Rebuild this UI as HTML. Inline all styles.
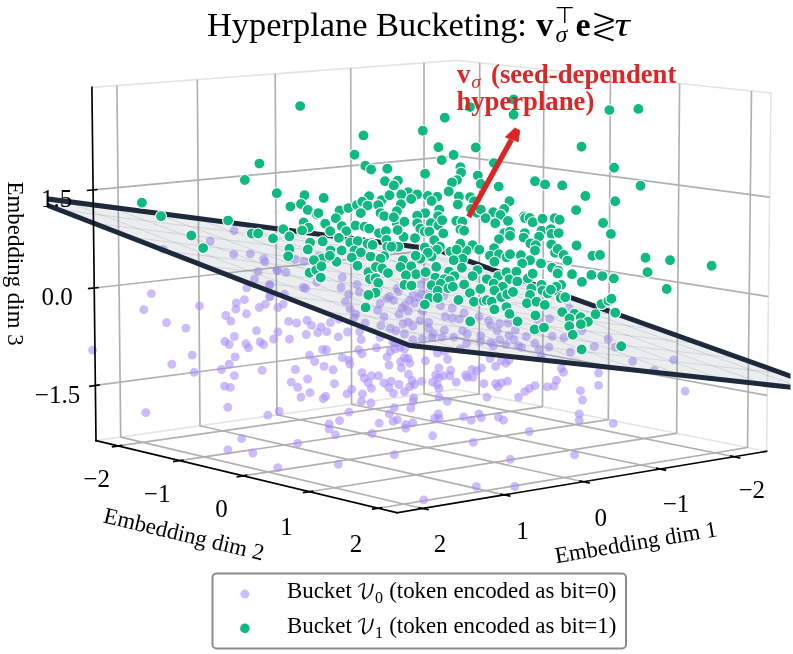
<!DOCTYPE html><html><head><meta charset="utf-8"><style>html,body{margin:0;padding:0;background:#fff}svg{display:block}</style></head><body><svg width="793" height="654" viewBox="0 0 793 654" font-family="'Liberation Serif', serif">
<rect width="793" height="654" fill="#fff"/>
<defs><clipPath id="axclip"><rect x="47" y="0" width="743.5" height="654"/></clipPath></defs>
<polyline points="91.9,87.4 456.3,60.4" fill="none" stroke="#e4e4e4" stroke-width="1.6" />
<polyline points="96.0,440.6 456.0,389.3 766.6,451.3" fill="none" stroke="#e4e4e4" stroke-width="1.6" />
<polyline points="456.3,60.4 770.9,93.0 766.6,451.3" fill="none" stroke="#e4e4e4" stroke-width="1.6" />
<polyline points="96.0,440.6 396.9,512.7 766.6,451.3" fill="none" stroke="#e4e4e4" stroke-width="1.6" />
<polyline points="734.1,456.7 424.1,393.9 424.0,62.8" fill="none" stroke="#b0b0b0" stroke-width="1.67" stroke-linejoin="round"/>
<polyline points="118.2,445.9 479.1,394.0 479.7,62.8" fill="none" stroke="#b0b0b0" stroke-width="1.67" stroke-linejoin="round"/>
<polyline points="660.0,469.0 351.6,404.2 350.7,68.2" fill="none" stroke="#b0b0b0" stroke-width="1.67" stroke-linejoin="round"/>
<polyline points="179.4,460.6 542.5,406.6 543.9,69.5" fill="none" stroke="#b0b0b0" stroke-width="1.67" stroke-linejoin="round"/>
<polyline points="583.4,481.7 277.0,414.8 275.2,73.8" fill="none" stroke="#b0b0b0" stroke-width="1.67" stroke-linejoin="round"/>
<polyline points="243.0,475.8 608.3,419.7 610.5,76.4" fill="none" stroke="#b0b0b0" stroke-width="1.67" stroke-linejoin="round"/>
<polyline points="504.3,494.9 200.0,425.8 197.3,79.6" fill="none" stroke="#b0b0b0" stroke-width="1.67" stroke-linejoin="round"/>
<polyline points="309.3,491.7 676.6,433.4 679.6,83.6" fill="none" stroke="#b0b0b0" stroke-width="1.67" stroke-linejoin="round"/>
<polyline points="422.4,508.5 120.7,437.1 116.9,85.5" fill="none" stroke="#b0b0b0" stroke-width="1.67" stroke-linejoin="round"/>
<polyline points="378.3,508.2 747.5,447.5 751.5,91.0" fill="none" stroke="#b0b0b0" stroke-width="1.67" stroke-linejoin="round"/>
<polyline points="95.3,385.4 456.0,337.9 767.3,395.4" fill="none" stroke="#b0b0b0" stroke-width="1.67" stroke-linejoin="round"/>
<polyline points="94.2,288.0 456.1,247.2 768.5,296.6" fill="none" stroke="#b0b0b0" stroke-width="1.67" stroke-linejoin="round"/>
<polyline points="93.1,189.9 456.2,155.8 769.6,197.1" fill="none" stroke="#b0b0b0" stroke-width="1.67" stroke-linejoin="round"/>
<g clip-path="url(#axclip)">
<g fill="#a78bfa" fill-opacity="0.58">
<circle cx="290.3" cy="257.9" r="4.45"/>
<circle cx="295.0" cy="259.6" r="4.45"/>
<circle cx="444.0" cy="295.6" r="4.45"/>
<circle cx="397.1" cy="288.3" r="4.45"/>
<circle cx="373.4" cy="294.1" r="4.45"/>
<circle cx="436.5" cy="288.6" r="4.45"/>
<circle cx="430.4" cy="290.1" r="4.45"/>
<circle cx="377.9" cy="289.8" r="4.45"/>
<circle cx="425.0" cy="276.8" r="4.45"/>
<circle cx="304.0" cy="261.4" r="4.45"/>
<circle cx="421.0" cy="284.6" r="4.45"/>
<circle cx="421.4" cy="293.8" r="4.45"/>
<circle cx="413.1" cy="294.8" r="4.45"/>
<circle cx="376.6" cy="288.3" r="4.45"/>
<circle cx="319.1" cy="256.3" r="4.45"/>
<circle cx="373.8" cy="293.5" r="4.45"/>
<circle cx="431.9" cy="295.5" r="4.45"/>
<circle cx="438.5" cy="288.3" r="4.45"/>
<circle cx="419.0" cy="297.0" r="4.45"/>
<circle cx="398.4" cy="291.5" r="4.45"/>
<circle cx="453.4" cy="287.5" r="4.45"/>
<circle cx="389.1" cy="273.2" r="4.45"/>
<circle cx="452.8" cy="287.6" r="4.45"/>
<circle cx="234.2" cy="230.7" r="4.45"/>
<circle cx="210.2" cy="241.0" r="4.45"/>
<circle cx="163.3" cy="249.4" r="4.45"/>
<circle cx="233.7" cy="254.4" r="4.45"/>
<circle cx="250.3" cy="253.9" r="4.45"/>
<circle cx="263.7" cy="258.9" r="4.45"/>
<circle cx="569.1" cy="308.0" r="4.45"/>
<circle cx="549.7" cy="318.6" r="4.45"/>
<circle cx="537.6" cy="319.3" r="4.45"/>
<circle cx="552.2" cy="336.2" r="4.45"/>
<circle cx="564.0" cy="337.7" r="4.45"/>
<circle cx="581.7" cy="330.7" r="4.45"/>
<circle cx="608.2" cy="339.0" r="4.45"/>
<circle cx="594.3" cy="346.6" r="4.45"/>
<circle cx="615.2" cy="347.1" r="4.45"/>
<circle cx="570.4" cy="352.1" r="4.45"/>
<circle cx="548.9" cy="347.1" r="4.45"/>
<circle cx="535.0" cy="343.3" r="4.45"/>
<circle cx="538.8" cy="349.6" r="4.45"/>
<circle cx="541.3" cy="355.9" r="4.45"/>
<circle cx="632.6" cy="361.4" r="4.45"/>
<circle cx="673.8" cy="359.9" r="4.45"/>
<circle cx="654.3" cy="370.5" r="4.45"/>
<circle cx="561.5" cy="368.5" r="4.45"/>
<circle cx="563.5" cy="372.3" r="4.45"/>
<circle cx="598.6" cy="373.0" r="4.45"/>
<circle cx="556.5" cy="380.3" r="4.45"/>
<circle cx="554.0" cy="386.1" r="4.45"/>
<circle cx="547.2" cy="386.9" r="4.45"/>
<circle cx="535.0" cy="385.6" r="4.45"/>
<circle cx="598.6" cy="385.4" r="4.45"/>
<circle cx="580.4" cy="390.7" r="4.45"/>
<circle cx="582.5" cy="400.0" r="4.45"/>
<circle cx="685.1" cy="391.2" r="4.45"/>
<circle cx="579.2" cy="413.9" r="4.45"/>
<circle cx="579.2" cy="420.2" r="4.45"/>
<circle cx="151.4" cy="293.6" r="4.45"/>
<circle cx="143.8" cy="309.7" r="4.45"/>
<circle cx="166.5" cy="322.6" r="4.45"/>
<circle cx="185.9" cy="328.1" r="4.45"/>
<circle cx="199.5" cy="305.9" r="4.45"/>
<circle cx="92.6" cy="350.1" r="4.45"/>
<circle cx="192.2" cy="355.1" r="4.45"/>
<circle cx="171.8" cy="364.2" r="4.45"/>
<circle cx="194.2" cy="372.3" r="4.45"/>
<circle cx="145.8" cy="412.6" r="4.45"/>
<circle cx="225.8" cy="315.5" r="4.45"/>
<circle cx="230.8" cy="321.1" r="4.45"/>
<circle cx="235.9" cy="309.2" r="4.45"/>
<circle cx="236.4" cy="302.9" r="4.45"/>
<circle cx="244.4" cy="299.6" r="4.45"/>
<circle cx="246.7" cy="287.8" r="4.45"/>
<circle cx="246.5" cy="313.8" r="4.45"/>
<circle cx="259.3" cy="307.5" r="4.45"/>
<circle cx="265.4" cy="304.2" r="4.45"/>
<circle cx="269.7" cy="296.6" r="4.45"/>
<circle cx="254.5" cy="279.0" r="4.45"/>
<circle cx="269.4" cy="285.3" r="4.45"/>
<circle cx="258.1" cy="271.4" r="4.45"/>
<circle cx="264.9" cy="261.8" r="4.45"/>
<circle cx="278.0" cy="270.6" r="4.45"/>
<circle cx="278.0" cy="307.5" r="4.45"/>
<circle cx="256.5" cy="330.7" r="4.45"/>
<circle cx="234.4" cy="336.5" r="4.45"/>
<circle cx="225.0" cy="341.5" r="4.45"/>
<circle cx="229.3" cy="344.5" r="4.45"/>
<circle cx="246.0" cy="343.8" r="4.45"/>
<circle cx="248.5" cy="347.8" r="4.45"/>
<circle cx="260.1" cy="342.0" r="4.45"/>
<circle cx="263.6" cy="344.5" r="4.45"/>
<circle cx="273.7" cy="339.0" r="4.45"/>
<circle cx="278.0" cy="331.9" r="4.45"/>
<circle cx="235.1" cy="356.9" r="4.45"/>
<circle cx="229.3" cy="364.2" r="4.45"/>
<circle cx="221.5" cy="369.5" r="4.45"/>
<circle cx="234.4" cy="375.6" r="4.45"/>
<circle cx="262.1" cy="370.3" r="4.45"/>
<circle cx="224.5" cy="386.1" r="4.45"/>
<circle cx="230.3" cy="387.4" r="4.45"/>
<circle cx="227.8" cy="407.3" r="4.45"/>
<circle cx="267.9" cy="415.2" r="4.45"/>
<circle cx="279.2" cy="411.4" r="4.45"/>
<circle cx="241.7" cy="438.6" r="4.45"/>
<circle cx="227.9" cy="449.9" r="4.45"/>
<circle cx="252.8" cy="453.0" r="4.45"/>
<circle cx="277.8" cy="467.6" r="4.45"/>
<circle cx="297.7" cy="443.4" r="4.45"/>
<circle cx="329.2" cy="424.0" r="4.45"/>
<circle cx="329.2" cy="429.0" r="4.45"/>
<circle cx="361.5" cy="401.3" r="4.45"/>
<circle cx="370.9" cy="403.0" r="4.45"/>
<circle cx="394.3" cy="407.6" r="4.45"/>
<circle cx="410.7" cy="408.1" r="4.45"/>
<circle cx="413.2" cy="401.3" r="4.45"/>
<circle cx="447.3" cy="401.3" r="4.45"/>
<circle cx="348.9" cy="412.1" r="4.45"/>
<circle cx="339.6" cy="420.7" r="4.45"/>
<circle cx="335.5" cy="434.8" r="4.45"/>
<circle cx="372.1" cy="433.5" r="4.45"/>
<circle cx="379.2" cy="423.2" r="4.45"/>
<circle cx="389.3" cy="413.9" r="4.45"/>
<circle cx="393.1" cy="421.4" r="4.45"/>
<circle cx="397.3" cy="419.7" r="4.45"/>
<circle cx="405.7" cy="424.7" r="4.45"/>
<circle cx="405.7" cy="428.2" r="4.45"/>
<circle cx="412.7" cy="422.7" r="4.45"/>
<circle cx="434.7" cy="418.2" r="4.45"/>
<circle cx="438.4" cy="413.9" r="4.45"/>
<circle cx="439.0" cy="418.2" r="4.45"/>
<circle cx="463.7" cy="416.9" r="4.45"/>
<circle cx="471.2" cy="420.2" r="4.45"/>
<circle cx="478.8" cy="413.9" r="4.45"/>
<circle cx="481.3" cy="417.7" r="4.45"/>
<circle cx="498.5" cy="417.2" r="4.45"/>
<circle cx="503.5" cy="420.2" r="4.45"/>
<circle cx="432.6" cy="435.8" r="4.45"/>
<circle cx="473.3" cy="442.4" r="4.45"/>
<circle cx="394.3" cy="454.7" r="4.45"/>
<circle cx="338.3" cy="464.3" r="4.45"/>
<circle cx="510.3" cy="459.3" r="4.45"/>
<circle cx="476.3" cy="486.5" r="4.45"/>
<circle cx="514.9" cy="486.5" r="4.45"/>
<circle cx="423.8" cy="499.9" r="4.45"/>
<circle cx="529.2" cy="431.5" r="4.45"/>
<circle cx="613.2" cy="423.4" r="4.45"/>
<circle cx="574.6" cy="454.9" r="4.45"/>
<circle cx="276.8" cy="270.1" r="4.45"/>
<circle cx="285.9" cy="272.3" r="4.45"/>
<circle cx="303.3" cy="287.5" r="4.45"/>
<circle cx="305.6" cy="288.2" r="4.45"/>
<circle cx="316.9" cy="282.2" r="4.45"/>
<circle cx="342.3" cy="277.3" r="4.45"/>
<circle cx="341.1" cy="287.5" r="4.45"/>
<circle cx="357.0" cy="284.4" r="4.45"/>
<circle cx="348.7" cy="294.3" r="4.45"/>
<circle cx="359.3" cy="292.0" r="4.45"/>
<circle cx="389.6" cy="296.5" r="4.45"/>
<circle cx="270.0" cy="296.5" r="4.45"/>
<circle cx="270.0" cy="284.4" r="4.45"/>
<circle cx="284.4" cy="294.3" r="4.45"/>
<circle cx="283.2" cy="304.1" r="4.45"/>
<circle cx="288.7" cy="321.4" r="4.45"/>
<circle cx="296.6" cy="323.0" r="4.45"/>
<circle cx="307.1" cy="320.3" r="4.45"/>
<circle cx="311.5" cy="325.4" r="4.45"/>
<circle cx="321.0" cy="326.9" r="4.45"/>
<circle cx="330.4" cy="322.5" r="4.45"/>
<circle cx="317.8" cy="332.5" r="4.45"/>
<circle cx="326.8" cy="331.7" r="4.45"/>
<circle cx="306.3" cy="334.5" r="4.45"/>
<circle cx="289.5" cy="339.2" r="4.45"/>
<circle cx="338.3" cy="336.9" r="4.45"/>
<circle cx="347.5" cy="332.0" r="4.45"/>
<circle cx="339.1" cy="319.1" r="4.45"/>
<circle cx="359.6" cy="331.7" r="4.45"/>
<circle cx="361.2" cy="339.6" r="4.45"/>
<circle cx="358.8" cy="349.8" r="4.45"/>
<circle cx="362.0" cy="353.7" r="4.45"/>
<circle cx="376.5" cy="347.8" r="4.45"/>
<circle cx="380.1" cy="337.2" r="4.45"/>
<circle cx="322.6" cy="349.5" r="4.45"/>
<circle cx="326.5" cy="349.8" r="4.45"/>
<circle cx="309.5" cy="355.3" r="4.45"/>
<circle cx="314.7" cy="361.6" r="4.45"/>
<circle cx="324.1" cy="366.4" r="4.45"/>
<circle cx="333.1" cy="369.8" r="4.45"/>
<circle cx="342.3" cy="357.7" r="4.45"/>
<circle cx="348.9" cy="360.1" r="4.45"/>
<circle cx="349.8" cy="364.0" r="4.45"/>
<circle cx="295.4" cy="369.5" r="4.45"/>
<circle cx="307.6" cy="379.0" r="4.45"/>
<circle cx="291.3" cy="382.1" r="4.45"/>
<circle cx="297.7" cy="387.3" r="4.45"/>
<circle cx="334.4" cy="383.7" r="4.45"/>
<circle cx="309.9" cy="392.7" r="4.45"/>
<circle cx="301.0" cy="397.1" r="4.45"/>
<circle cx="325.7" cy="396.3" r="4.45"/>
<circle cx="323.3" cy="398.7" r="4.45"/>
<circle cx="351.7" cy="389.2" r="4.45"/>
<circle cx="347.0" cy="393.9" r="4.45"/>
<circle cx="362.4" cy="393.9" r="4.45"/>
<circle cx="362.0" cy="372.7" r="4.45"/>
<circle cx="364.3" cy="378.2" r="4.45"/>
<circle cx="371.4" cy="375.8" r="4.45"/>
<circle cx="378.5" cy="375.8" r="4.45"/>
<circle cx="368.3" cy="382.9" r="4.45"/>
<circle cx="371.4" cy="388.4" r="4.45"/>
<circle cx="384.0" cy="382.9" r="4.45"/>
<circle cx="391.1" cy="381.3" r="4.45"/>
<circle cx="388.8" cy="387.6" r="4.45"/>
<circle cx="393.5" cy="393.2" r="4.45"/>
<circle cx="399.0" cy="384.5" r="4.45"/>
<circle cx="404.5" cy="391.6" r="4.45"/>
<circle cx="387.2" cy="356.9" r="4.45"/>
<circle cx="390.3" cy="351.4" r="4.45"/>
<circle cx="395.1" cy="349.0" r="4.45"/>
<circle cx="399.8" cy="347.4" r="4.45"/>
<circle cx="404.5" cy="349.0" r="4.45"/>
<circle cx="389.1" cy="365.1" r="4.45"/>
<circle cx="400.6" cy="361.6" r="4.45"/>
<circle cx="404.5" cy="357.7" r="4.45"/>
<circle cx="401.4" cy="367.9" r="4.45"/>
<circle cx="395.1" cy="342.7" r="4.45"/>
<circle cx="392.7" cy="341.9" r="4.45"/>
<circle cx="345.4" cy="301.7" r="4.45"/>
<circle cx="350.1" cy="308.8" r="4.45"/>
<circle cx="355.7" cy="314.3" r="4.45"/>
<circle cx="354.1" cy="317.5" r="4.45"/>
<circle cx="365.1" cy="323.0" r="4.45"/>
<circle cx="377.7" cy="310.4" r="4.45"/>
<circle cx="380.1" cy="303.3" r="4.45"/>
<circle cx="384.0" cy="316.7" r="4.45"/>
<circle cx="380.9" cy="325.4" r="4.45"/>
<circle cx="390.3" cy="328.5" r="4.45"/>
<circle cx="395.9" cy="330.9" r="4.45"/>
<circle cx="403.0" cy="323.8" r="4.45"/>
<circle cx="404.5" cy="334.0" r="4.45"/>
<circle cx="399.0" cy="314.3" r="4.45"/>
<circle cx="402.2" cy="308.0" r="4.45"/>
<circle cx="393.5" cy="300.2" r="4.45"/>
<circle cx="387.2" cy="298.6" r="4.45"/>
<circle cx="408.2" cy="358.5" r="4.45"/>
<circle cx="409.7" cy="363.2" r="4.45"/>
<circle cx="425.5" cy="360.8" r="4.45"/>
<circle cx="437.3" cy="353.0" r="4.45"/>
<circle cx="447.6" cy="359.3" r="4.45"/>
<circle cx="444.4" cy="351.4" r="4.45"/>
<circle cx="438.9" cy="367.9" r="4.45"/>
<circle cx="450.7" cy="370.3" r="4.45"/>
<circle cx="435.7" cy="375.0" r="4.45"/>
<circle cx="438.9" cy="377.4" r="4.45"/>
<circle cx="443.6" cy="375.8" r="4.45"/>
<circle cx="449.9" cy="375.8" r="4.45"/>
<circle cx="408.5" cy="374.2" r="4.45"/>
<circle cx="412.1" cy="380.5" r="4.45"/>
<circle cx="414.5" cy="384.5" r="4.45"/>
<circle cx="409.7" cy="386.8" r="4.45"/>
<circle cx="421.6" cy="381.3" r="4.45"/>
<circle cx="432.6" cy="382.1" r="4.45"/>
<circle cx="437.3" cy="384.5" r="4.45"/>
<circle cx="438.9" cy="388.4" r="4.45"/>
<circle cx="456.2" cy="382.1" r="4.45"/>
<circle cx="465.7" cy="375.0" r="4.45"/>
<circle cx="472.0" cy="369.5" r="4.45"/>
<circle cx="472.8" cy="377.4" r="4.45"/>
<circle cx="481.5" cy="367.9" r="4.45"/>
<circle cx="476.7" cy="371.1" r="4.45"/>
<circle cx="467.3" cy="377.4" r="4.45"/>
<circle cx="490.1" cy="358.5" r="4.45"/>
<circle cx="495.6" cy="366.4" r="4.45"/>
<circle cx="501.2" cy="360.8" r="4.45"/>
<circle cx="505.9" cy="363.2" r="4.45"/>
<circle cx="509.0" cy="360.1" r="4.45"/>
<circle cx="483.8" cy="383.7" r="4.45"/>
<circle cx="495.6" cy="383.7" r="4.45"/>
<circle cx="498.0" cy="386.8" r="4.45"/>
<circle cx="507.5" cy="381.3" r="4.45"/>
<circle cx="501.2" cy="382.9" r="4.45"/>
<circle cx="524.8" cy="391.6" r="4.45"/>
<circle cx="529.5" cy="388.4" r="4.45"/>
<circle cx="518.5" cy="397.1" r="4.45"/>
<circle cx="487.0" cy="397.1" r="4.45"/>
<circle cx="438.9" cy="397.1" r="4.45"/>
<circle cx="413.7" cy="397.9" r="4.45"/>
<circle cx="460.2" cy="349.0" r="4.45"/>
<circle cx="408.2" cy="322.2" r="4.45"/>
<circle cx="412.9" cy="326.2" r="4.45"/>
<circle cx="420.0" cy="320.6" r="4.45"/>
<circle cx="428.6" cy="322.2" r="4.45"/>
<circle cx="428.6" cy="328.5" r="4.45"/>
<circle cx="433.4" cy="334.0" r="4.45"/>
<circle cx="440.5" cy="305.7" r="4.45"/>
<circle cx="445.2" cy="316.7" r="4.45"/>
<circle cx="444.4" cy="330.1" r="4.45"/>
<circle cx="452.3" cy="308.0" r="4.45"/>
<circle cx="452.3" cy="318.3" r="4.45"/>
<circle cx="459.4" cy="319.1" r="4.45"/>
<circle cx="464.1" cy="312.8" r="4.45"/>
<circle cx="462.5" cy="330.9" r="4.45"/>
<circle cx="467.3" cy="334.0" r="4.45"/>
<circle cx="453.9" cy="337.2" r="4.45"/>
<circle cx="442.0" cy="337.2" r="4.45"/>
<circle cx="431.8" cy="337.2" r="4.45"/>
<circle cx="422.3" cy="338.8" r="4.45"/>
<circle cx="412.9" cy="339.6" r="4.45"/>
<circle cx="479.1" cy="316.7" r="4.45"/>
<circle cx="480.7" cy="335.6" r="4.45"/>
<circle cx="488.5" cy="320.6" r="4.45"/>
<circle cx="490.9" cy="325.4" r="4.45"/>
<circle cx="497.2" cy="330.9" r="4.45"/>
<circle cx="499.6" cy="323.8" r="4.45"/>
<circle cx="508.2" cy="323.0" r="4.45"/>
<circle cx="515.3" cy="330.1" r="4.45"/>
<circle cx="509.0" cy="335.6" r="4.45"/>
<circle cx="499.6" cy="339.6" r="4.45"/>
<circle cx="490.9" cy="342.7" r="4.45"/>
<circle cx="480.7" cy="341.1" r="4.45"/>
<circle cx="466.5" cy="343.5" r="4.45"/>
<circle cx="513.8" cy="339.6" r="4.45"/>
<circle cx="518.5" cy="345.9" r="4.45"/>
<circle cx="505.9" cy="344.3" r="4.45"/>
<circle cx="493.3" cy="345.9" r="4.45"/>
<circle cx="408.2" cy="311.2" r="4.45"/>
<circle cx="414.5" cy="303.3" r="4.45"/>
<circle cx="409.7" cy="300.2" r="4.45"/>
<circle cx="405.0" cy="304.9" r="4.45"/>
<circle cx="422.3" cy="311.2" r="4.45"/>
<circle cx="521.6" cy="347.4" r="4.45"/>
<circle cx="526.4" cy="336.4" r="4.45"/>
</g>
<polygon points="22.6,195.7 410.0,345.5 835.5,392.2 436.1,249.4" fill="#7b8494" fill-opacity="0.15"/>
<polyline points="397.9,244.5 796.5,385.8" fill="none" stroke="#6b7280" stroke-width="0.65" stroke-opacity="0.3"/>
<polyline points="472.4,262.2 57.4,209.5" fill="none" stroke="#6b7280" stroke-width="0.65" stroke-opacity="0.3"/>
<polyline points="358.9,239.5 756.7,381.5" fill="none" stroke="#6b7280" stroke-width="0.65" stroke-opacity="0.3"/>
<polyline points="509.3,275.2 93.0,223.1" fill="none" stroke="#6b7280" stroke-width="0.65" stroke-opacity="0.3"/>
<polyline points="319.4,234.4 716.2,377.2" fill="none" stroke="#6b7280" stroke-width="0.65" stroke-opacity="0.3"/>
<polyline points="547.1,288.5 129.4,237.0" fill="none" stroke="#6b7280" stroke-width="0.65" stroke-opacity="0.3"/>
<polyline points="279.1,229.2 675.0,372.7" fill="none" stroke="#6b7280" stroke-width="0.65" stroke-opacity="0.3"/>
<polyline points="585.6,302.1 166.7,251.2" fill="none" stroke="#6b7280" stroke-width="0.65" stroke-opacity="0.3"/>
<polyline points="238.2,224.0 632.9,368.2" fill="none" stroke="#6b7280" stroke-width="0.65" stroke-opacity="0.3"/>
<polyline points="625.0,315.9 204.8,265.8" fill="none" stroke="#6b7280" stroke-width="0.65" stroke-opacity="0.3"/>
<polyline points="196.5,218.6 590.1,363.6" fill="none" stroke="#6b7280" stroke-width="0.65" stroke-opacity="0.3"/>
<polyline points="665.3,330.1 243.9,280.7" fill="none" stroke="#6b7280" stroke-width="0.65" stroke-opacity="0.3"/>
<polyline points="154.2,213.1 546.4,358.9" fill="none" stroke="#6b7280" stroke-width="0.65" stroke-opacity="0.3"/>
<polyline points="706.4,344.6 283.9,296.0" fill="none" stroke="#6b7280" stroke-width="0.65" stroke-opacity="0.3"/>
<polyline points="111.1,207.6 501.8,354.1" fill="none" stroke="#6b7280" stroke-width="0.65" stroke-opacity="0.3"/>
<polyline points="748.5,359.4 324.9,311.7" fill="none" stroke="#6b7280" stroke-width="0.65" stroke-opacity="0.3"/>
<polyline points="67.2,201.9 456.4,349.2" fill="none" stroke="#6b7280" stroke-width="0.65" stroke-opacity="0.3"/>
<polyline points="791.5,374.5 366.9,327.7" fill="none" stroke="#6b7280" stroke-width="0.65" stroke-opacity="0.3"/>
<polygon points="22.6,195.7 410.0,345.5 835.5,392.2 436.1,249.4" fill="none" stroke="#1e293b" stroke-width="5" stroke-linejoin="round"/>
<g fill="#10b981" stroke="#fff" stroke-width="1.1">
<circle cx="365.3" cy="165.8" r="5.5"/>
<circle cx="371.1" cy="169.5" r="5.5"/>
<circle cx="387.3" cy="168.8" r="5.5"/>
<circle cx="385.0" cy="181.2" r="5.5"/>
<circle cx="276.8" cy="193.3" r="5.5"/>
<circle cx="304.5" cy="195.3" r="5.5"/>
<circle cx="323.7" cy="198.0" r="5.5"/>
<circle cx="369.1" cy="196.3" r="5.5"/>
<circle cx="381.7" cy="200.1" r="5.5"/>
<circle cx="389.5" cy="195.3" r="5.5"/>
<circle cx="290.4" cy="206.6" r="5.5"/>
<circle cx="301.0" cy="204.0" r="5.5"/>
<circle cx="307.8" cy="209.9" r="5.5"/>
<circle cx="316.9" cy="214.6" r="5.5"/>
<circle cx="318.4" cy="213.1" r="5.5"/>
<circle cx="338.9" cy="211.9" r="5.5"/>
<circle cx="339.6" cy="210.4" r="5.5"/>
<circle cx="348.4" cy="208.1" r="5.5"/>
<circle cx="357.0" cy="205.1" r="5.5"/>
<circle cx="362.3" cy="201.8" r="5.5"/>
<circle cx="367.6" cy="205.6" r="5.5"/>
<circle cx="378.2" cy="205.1" r="5.5"/>
<circle cx="380.5" cy="213.1" r="5.5"/>
<circle cx="384.2" cy="216.1" r="5.5"/>
<circle cx="360.8" cy="213.1" r="5.5"/>
<circle cx="335.8" cy="218.3" r="5.5"/>
<circle cx="303.6" cy="222.5" r="5.5"/>
<circle cx="308.6" cy="227.8" r="5.5"/>
<circle cx="302.1" cy="230.4" r="5.5"/>
<circle cx="325.2" cy="223.7" r="5.5"/>
<circle cx="341.9" cy="226.3" r="5.5"/>
<circle cx="346.4" cy="231.1" r="5.5"/>
<circle cx="330.2" cy="231.3" r="5.5"/>
<circle cx="355.5" cy="225.5" r="5.5"/>
<circle cx="364.6" cy="226.7" r="5.5"/>
<circle cx="369.1" cy="228.6" r="5.5"/>
<circle cx="283.3" cy="229.3" r="5.5"/>
<circle cx="289.4" cy="236.4" r="5.5"/>
<circle cx="273.0" cy="238.4" r="5.5"/>
<circle cx="338.9" cy="237.9" r="5.5"/>
<circle cx="322.7" cy="241.4" r="5.5"/>
<circle cx="310.1" cy="242.6" r="5.5"/>
<circle cx="350.2" cy="242.5" r="5.5"/>
<circle cx="357.8" cy="241.1" r="5.5"/>
<circle cx="367.6" cy="243.7" r="5.5"/>
<circle cx="372.6" cy="244.9" r="5.5"/>
<circle cx="379.0" cy="233.1" r="5.5"/>
<circle cx="385.8" cy="231.3" r="5.5"/>
<circle cx="386.5" cy="239.9" r="5.5"/>
<circle cx="387.3" cy="246.7" r="5.5"/>
<circle cx="289.4" cy="248.7" r="5.5"/>
<circle cx="307.8" cy="249.4" r="5.5"/>
<circle cx="330.5" cy="250.5" r="5.5"/>
<circle cx="341.6" cy="250.5" r="5.5"/>
<circle cx="354.4" cy="250.5" r="5.5"/>
<circle cx="360.8" cy="252.5" r="5.5"/>
<circle cx="288.2" cy="256.2" r="5.5"/>
<circle cx="322.2" cy="258.5" r="5.5"/>
<circle cx="313.9" cy="260.3" r="5.5"/>
<circle cx="351.7" cy="257.6" r="5.5"/>
<circle cx="370.6" cy="256.6" r="5.5"/>
<circle cx="384.2" cy="256.2" r="5.5"/>
<circle cx="336.6" cy="261.8" r="5.5"/>
<circle cx="329.8" cy="255.8" r="5.5"/>
<circle cx="380.5" cy="258.8" r="5.5"/>
<circle cx="425.1" cy="173.8" r="5.5"/>
<circle cx="460.4" cy="167.3" r="5.5"/>
<circle cx="461.1" cy="172.6" r="5.5"/>
<circle cx="457.0" cy="180.1" r="5.5"/>
<circle cx="452.0" cy="182.4" r="5.5"/>
<circle cx="477.8" cy="175.6" r="5.5"/>
<circle cx="480.8" cy="183.9" r="5.5"/>
<circle cx="498.7" cy="186.6" r="5.5"/>
<circle cx="397.9" cy="180.6" r="5.5"/>
<circle cx="393.8" cy="185.4" r="5.5"/>
<circle cx="448.7" cy="191.5" r="5.5"/>
<circle cx="408.2" cy="192.2" r="5.5"/>
<circle cx="417.2" cy="194.5" r="5.5"/>
<circle cx="401.3" cy="194.5" r="5.5"/>
<circle cx="411.2" cy="199.0" r="5.5"/>
<circle cx="427.8" cy="196.0" r="5.5"/>
<circle cx="437.2" cy="196.8" r="5.5"/>
<circle cx="431.6" cy="201.0" r="5.5"/>
<circle cx="458.9" cy="196.5" r="5.5"/>
<circle cx="457.8" cy="204.6" r="5.5"/>
<circle cx="470.2" cy="197.1" r="5.5"/>
<circle cx="474.0" cy="201.3" r="5.5"/>
<circle cx="509.5" cy="201.3" r="5.5"/>
<circle cx="400.9" cy="204.3" r="5.5"/>
<circle cx="396.8" cy="211.2" r="5.5"/>
<circle cx="439.2" cy="209.6" r="5.5"/>
<circle cx="425.1" cy="213.1" r="5.5"/>
<circle cx="438.1" cy="216.1" r="5.5"/>
<circle cx="417.2" cy="215.7" r="5.5"/>
<circle cx="471.0" cy="208.9" r="5.5"/>
<circle cx="477.0" cy="212.7" r="5.5"/>
<circle cx="480.8" cy="209.6" r="5.5"/>
<circle cx="493.2" cy="212.2" r="5.5"/>
<circle cx="504.2" cy="208.9" r="5.5"/>
<circle cx="500.5" cy="214.9" r="5.5"/>
<circle cx="485.6" cy="218.3" r="5.5"/>
<circle cx="495.2" cy="223.3" r="5.5"/>
<circle cx="508.0" cy="221.0" r="5.5"/>
<circle cx="396.8" cy="223.3" r="5.5"/>
<circle cx="404.4" cy="221.7" r="5.5"/>
<circle cx="393.8" cy="217.2" r="5.5"/>
<circle cx="417.2" cy="223.3" r="5.5"/>
<circle cx="430.9" cy="223.3" r="5.5"/>
<circle cx="438.4" cy="225.5" r="5.5"/>
<circle cx="442.2" cy="220.2" r="5.5"/>
<circle cx="456.3" cy="221.0" r="5.5"/>
<circle cx="462.3" cy="221.7" r="5.5"/>
<circle cx="460.4" cy="229.6" r="5.5"/>
<circle cx="464.1" cy="230.8" r="5.5"/>
<circle cx="420.3" cy="228.6" r="5.5"/>
<circle cx="424.8" cy="231.6" r="5.5"/>
<circle cx="429.3" cy="231.6" r="5.5"/>
<circle cx="443.3" cy="233.4" r="5.5"/>
<circle cx="504.2" cy="233.1" r="5.5"/>
<circle cx="499.0" cy="239.1" r="5.5"/>
<circle cx="403.6" cy="236.9" r="5.5"/>
<circle cx="397.6" cy="230.1" r="5.5"/>
<circle cx="415.0" cy="238.1" r="5.5"/>
<circle cx="434.2" cy="240.2" r="5.5"/>
<circle cx="439.9" cy="246.7" r="5.5"/>
<circle cx="436.9" cy="249.7" r="5.5"/>
<circle cx="494.1" cy="248.2" r="5.5"/>
<circle cx="472.5" cy="245.2" r="5.5"/>
<circle cx="466.4" cy="250.5" r="5.5"/>
<circle cx="460.4" cy="243.7" r="5.5"/>
<circle cx="479.3" cy="249.7" r="5.5"/>
<circle cx="450.5" cy="251.6" r="5.5"/>
<circle cx="456.6" cy="249.7" r="5.5"/>
<circle cx="398.3" cy="246.7" r="5.5"/>
<circle cx="391.5" cy="246.7" r="5.5"/>
<circle cx="424.8" cy="247.5" r="5.5"/>
<circle cx="431.6" cy="256.6" r="5.5"/>
<circle cx="427.8" cy="252.8" r="5.5"/>
<circle cx="420.3" cy="258.8" r="5.5"/>
<circle cx="415.7" cy="255.8" r="5.5"/>
<circle cx="489.9" cy="255.8" r="5.5"/>
<circle cx="499.0" cy="254.3" r="5.5"/>
<circle cx="506.5" cy="257.3" r="5.5"/>
<circle cx="462.6" cy="258.8" r="5.5"/>
<circle cx="453.6" cy="260.3" r="5.5"/>
<circle cx="402.9" cy="260.3" r="5.5"/>
<circle cx="494.4" cy="261.8" r="5.5"/>
<circle cx="614.1" cy="167.7" r="5.5"/>
<circle cx="535.0" cy="181.3" r="5.5"/>
<circle cx="545.1" cy="184.4" r="5.5"/>
<circle cx="562.2" cy="185.4" r="5.5"/>
<circle cx="585.4" cy="196.0" r="5.5"/>
<circle cx="615.2" cy="201.3" r="5.5"/>
<circle cx="576.1" cy="210.1" r="5.5"/>
<circle cx="523.9" cy="216.5" r="5.5"/>
<circle cx="525.1" cy="218.3" r="5.5"/>
<circle cx="529.7" cy="218.0" r="5.5"/>
<circle cx="532.7" cy="222.2" r="5.5"/>
<circle cx="542.5" cy="218.7" r="5.5"/>
<circle cx="554.6" cy="218.3" r="5.5"/>
<circle cx="559.6" cy="219.8" r="5.5"/>
<circle cx="603.1" cy="223.0" r="5.5"/>
<circle cx="510.0" cy="231.6" r="5.5"/>
<circle cx="510.0" cy="235.8" r="5.5"/>
<circle cx="524.7" cy="233.1" r="5.5"/>
<circle cx="523.6" cy="237.6" r="5.5"/>
<circle cx="541.5" cy="230.8" r="5.5"/>
<circle cx="539.1" cy="236.6" r="5.5"/>
<circle cx="550.9" cy="229.3" r="5.5"/>
<circle cx="551.6" cy="233.9" r="5.5"/>
<circle cx="558.7" cy="233.1" r="5.5"/>
<circle cx="610.9" cy="233.9" r="5.5"/>
<circle cx="530.4" cy="243.4" r="5.5"/>
<circle cx="535.7" cy="245.2" r="5.5"/>
<circle cx="535.0" cy="250.5" r="5.5"/>
<circle cx="551.3" cy="244.4" r="5.5"/>
<circle cx="555.1" cy="252.8" r="5.5"/>
<circle cx="557.7" cy="249.0" r="5.5"/>
<circle cx="563.7" cy="255.0" r="5.5"/>
<circle cx="576.6" cy="245.5" r="5.5"/>
<circle cx="592.5" cy="255.8" r="5.5"/>
<circle cx="600.0" cy="255.0" r="5.5"/>
<circle cx="520.9" cy="255.3" r="5.5"/>
<circle cx="510.0" cy="254.3" r="5.5"/>
<circle cx="530.0" cy="260.3" r="5.5"/>
<circle cx="567.5" cy="260.6" r="5.5"/>
<circle cx="522.1" cy="263.4" r="5.5"/>
<circle cx="541.0" cy="263.4" r="5.5"/>
<circle cx="309.6" cy="272.8" r="5.5"/>
<circle cx="316.2" cy="270.1" r="5.5"/>
<circle cx="321.5" cy="266.3" r="5.5"/>
<circle cx="320.7" cy="277.6" r="5.5"/>
<circle cx="357.5" cy="265.8" r="5.5"/>
<circle cx="368.4" cy="272.3" r="5.5"/>
<circle cx="375.9" cy="267.0" r="5.5"/>
<circle cx="382.3" cy="268.5" r="5.5"/>
<circle cx="388.0" cy="273.1" r="5.5"/>
<circle cx="369.9" cy="279.1" r="5.5"/>
<circle cx="375.6" cy="278.1" r="5.5"/>
<circle cx="378.2" cy="282.9" r="5.5"/>
<circle cx="375.6" cy="292.8" r="5.5"/>
<circle cx="368.4" cy="295.0" r="5.5"/>
<circle cx="365.6" cy="307.4" r="5.5"/>
<circle cx="400.3" cy="267.0" r="5.5"/>
<circle cx="411.2" cy="266.3" r="5.5"/>
<circle cx="416.0" cy="274.3" r="5.5"/>
<circle cx="405.9" cy="275.3" r="5.5"/>
<circle cx="425.6" cy="272.3" r="5.5"/>
<circle cx="436.2" cy="267.0" r="5.5"/>
<circle cx="449.0" cy="271.6" r="5.5"/>
<circle cx="461.9" cy="267.8" r="5.5"/>
<circle cx="454.3" cy="276.1" r="5.5"/>
<circle cx="477.5" cy="270.1" r="5.5"/>
<circle cx="472.5" cy="276.1" r="5.5"/>
<circle cx="486.8" cy="279.1" r="5.5"/>
<circle cx="498.2" cy="276.1" r="5.5"/>
<circle cx="506.5" cy="272.3" r="5.5"/>
<circle cx="509.5" cy="279.1" r="5.5"/>
<circle cx="435.4" cy="277.6" r="5.5"/>
<circle cx="444.5" cy="279.1" r="5.5"/>
<circle cx="449.8" cy="280.6" r="5.5"/>
<circle cx="404.4" cy="284.9" r="5.5"/>
<circle cx="411.5" cy="285.6" r="5.5"/>
<circle cx="431.6" cy="285.2" r="5.5"/>
<circle cx="440.7" cy="283.7" r="5.5"/>
<circle cx="437.7" cy="290.8" r="5.5"/>
<circle cx="448.3" cy="288.2" r="5.5"/>
<circle cx="452.8" cy="286.7" r="5.5"/>
<circle cx="464.1" cy="284.4" r="5.5"/>
<circle cx="480.3" cy="289.0" r="5.5"/>
<circle cx="469.9" cy="293.1" r="5.5"/>
<circle cx="493.7" cy="283.7" r="5.5"/>
<circle cx="502.7" cy="286.7" r="5.5"/>
<circle cx="494.4" cy="290.5" r="5.5"/>
<circle cx="501.2" cy="297.3" r="5.5"/>
<circle cx="507.3" cy="294.3" r="5.5"/>
<circle cx="429.3" cy="298.0" r="5.5"/>
<circle cx="437.7" cy="298.0" r="5.5"/>
<circle cx="424.8" cy="304.6" r="5.5"/>
<circle cx="458.4" cy="300.0" r="5.5"/>
<circle cx="474.0" cy="301.8" r="5.5"/>
<circle cx="483.8" cy="301.1" r="5.5"/>
<circle cx="486.8" cy="300.3" r="5.5"/>
<circle cx="491.7" cy="301.8" r="5.5"/>
<circle cx="494.4" cy="309.4" r="5.5"/>
<circle cx="506.5" cy="307.1" r="5.5"/>
<circle cx="509.5" cy="313.9" r="5.5"/>
<circle cx="470.2" cy="321.5" r="5.5"/>
<circle cx="552.1" cy="267.8" r="5.5"/>
<circle cx="558.4" cy="270.8" r="5.5"/>
<circle cx="557.7" cy="273.4" r="5.5"/>
<circle cx="572.0" cy="274.3" r="5.5"/>
<circle cx="591.4" cy="274.9" r="5.5"/>
<circle cx="602.3" cy="276.1" r="5.5"/>
<circle cx="613.8" cy="278.4" r="5.5"/>
<circle cx="581.9" cy="281.9" r="5.5"/>
<circle cx="516.4" cy="271.6" r="5.5"/>
<circle cx="527.9" cy="278.4" r="5.5"/>
<circle cx="532.7" cy="273.8" r="5.5"/>
<circle cx="517.3" cy="281.4" r="5.5"/>
<circle cx="541.5" cy="284.9" r="5.5"/>
<circle cx="561.1" cy="284.9" r="5.5"/>
<circle cx="556.2" cy="286.7" r="5.5"/>
<circle cx="531.2" cy="288.5" r="5.5"/>
<circle cx="542.5" cy="290.5" r="5.5"/>
<circle cx="547.8" cy="293.5" r="5.5"/>
<circle cx="550.9" cy="289.7" r="5.5"/>
<circle cx="513.0" cy="292.0" r="5.5"/>
<circle cx="530.0" cy="295.0" r="5.5"/>
<circle cx="560.7" cy="298.0" r="5.5"/>
<circle cx="565.2" cy="297.3" r="5.5"/>
<circle cx="526.9" cy="303.3" r="5.5"/>
<circle cx="536.5" cy="301.8" r="5.5"/>
<circle cx="544.8" cy="304.9" r="5.5"/>
<circle cx="601.6" cy="304.1" r="5.5"/>
<circle cx="608.4" cy="300.8" r="5.5"/>
<circle cx="611.4" cy="298.8" r="5.5"/>
<circle cx="615.2" cy="312.7" r="5.5"/>
<circle cx="595.5" cy="314.2" r="5.5"/>
<circle cx="562.2" cy="312.1" r="5.5"/>
<circle cx="574.3" cy="313.6" r="5.5"/>
<circle cx="580.8" cy="317.3" r="5.5"/>
<circle cx="535.4" cy="315.5" r="5.5"/>
<circle cx="517.6" cy="321.5" r="5.5"/>
<circle cx="569.5" cy="318.5" r="5.5"/>
<circle cx="587.9" cy="321.8" r="5.5"/>
<circle cx="580.8" cy="324.2" r="5.5"/>
<circle cx="569.3" cy="326.3" r="5.5"/>
<circle cx="534.5" cy="329.5" r="5.5"/>
<circle cx="544.0" cy="327.6" r="5.5"/>
<circle cx="572.8" cy="334.8" r="5.5"/>
<circle cx="581.6" cy="349.5" r="5.5"/>
<circle cx="621.2" cy="346.2" r="5.5"/>
<circle cx="300.2" cy="106.1" r="5.5"/>
<circle cx="259.4" cy="163.6" r="5.5"/>
<circle cx="244.8" cy="180.0" r="5.5"/>
<circle cx="141.9" cy="202.7" r="5.5"/>
<circle cx="161.0" cy="216.3" r="5.5"/>
<circle cx="228.1" cy="220.6" r="5.5"/>
<circle cx="191.3" cy="235.5" r="5.5"/>
<circle cx="203.1" cy="248.1" r="5.5"/>
<circle cx="251.8" cy="233.5" r="5.5"/>
<circle cx="258.1" cy="233.5" r="5.5"/>
<circle cx="444.8" cy="117.7" r="5.5"/>
<circle cx="470.0" cy="107.1" r="5.5"/>
<circle cx="513.6" cy="99.5" r="5.5"/>
<circle cx="513.6" cy="114.7" r="5.5"/>
<circle cx="422.8" cy="130.8" r="5.5"/>
<circle cx="363.5" cy="135.4" r="5.5"/>
<circle cx="354.5" cy="154.8" r="5.5"/>
<circle cx="438.4" cy="147.2" r="5.5"/>
<circle cx="441.7" cy="160.1" r="5.5"/>
<circle cx="453.6" cy="155.0" r="5.5"/>
<circle cx="475.8" cy="147.5" r="5.5"/>
<circle cx="493.9" cy="163.1" r="5.5"/>
<circle cx="609.4" cy="110.1" r="5.5"/>
<circle cx="638.4" cy="108.9" r="5.5"/>
<circle cx="581.5" cy="146.7" r="5.5"/>
<circle cx="640.5" cy="185.8" r="5.5"/>
<circle cx="645.5" cy="257.7" r="5.5"/>
<circle cx="670.0" cy="260.2" r="5.5"/>
<circle cx="711.6" cy="265.8" r="5.5"/>
<circle cx="647.5" cy="272.2" r="5.5"/>
<circle cx="666.7" cy="289.0" r="5.5"/>
</g>
</g>
<line x1="468.7" y1="216.9" x2="511.5" y2="139.6" stroke="#dc2626" stroke-width="5.3"/>
<polygon points="505.4,137.1 514.7,128.0 519.8,130.5 518.2,141.7 511.9,139.6" fill="#dc2626" stroke="#dc2626" stroke-width="0.8" stroke-linejoin="round"/>
<text font-size="26.7" font-weight="bold" fill="#dc2626"><tspan x="457" y="83">v</tspan><tspan x="471.3" y="88" font-size="19.5" font-style="italic" font-weight="normal">σ </tspan><tspan x="491" y="83">(seed-dependent </tspan><tspan x="456.4" y="110">hyperplane)</tspan></text>
<polyline points="91.9,87.4 96.0,440.6" fill="none" stroke="#000" stroke-width="1.67" stroke-linecap="square"/>
<polyline points="96.0,440.6 396.9,512.7" fill="none" stroke="#000" stroke-width="1.67" stroke-linecap="square"/>
<polyline points="396.9,512.7 766.6,451.3" fill="none" stroke="#000" stroke-width="1.67" stroke-linecap="square"/>
<polyline points="122.4,445.3 111.8,446.9" fill="none" stroke="#000" stroke-width="1.67" />
<polyline points="183.6,460.0 173.0,461.6" fill="none" stroke="#000" stroke-width="1.67" />
<polyline points="247.2,475.2 236.6,476.8" fill="none" stroke="#000" stroke-width="1.67" />
<polyline points="313.4,491.1 302.8,492.7" fill="none" stroke="#000" stroke-width="1.67" />
<polyline points="382.4,507.6 371.9,509.2" fill="none" stroke="#000" stroke-width="1.67" />
<polyline points="730.0,455.8 740.4,458.1" fill="none" stroke="#000" stroke-width="1.67" />
<polyline points="655.9,468.1 666.3,470.4" fill="none" stroke="#000" stroke-width="1.67" />
<polyline points="579.3,480.8 589.8,483.1" fill="none" stroke="#000" stroke-width="1.67" />
<polyline points="500.2,494.0 510.6,496.3" fill="none" stroke="#000" stroke-width="1.67" />
<polyline points="418.3,507.6 428.8,509.8" fill="none" stroke="#000" stroke-width="1.67" />
<polyline points="99.8,384.9 89.1,386.3" fill="none" stroke="#000" stroke-width="1.67" />
<polyline points="98.7,287.5 87.9,288.7" fill="none" stroke="#000" stroke-width="1.67" />
<polyline points="97.5,189.5 86.8,190.5" fill="none" stroke="#000" stroke-width="1.67" />
<text x="96.6" y="487.4" font-size="25.0" text-anchor="middle" >−2</text>
<text x="157.1" y="501.8" font-size="25.0" text-anchor="middle" >−1</text>
<text x="221.4" y="517.4" font-size="25.0" text-anchor="middle" >0</text>
<text x="286.5" y="535.0" font-size="25.0" text-anchor="middle" >1</text>
<text x="356.0" y="551.9" font-size="25.0" text-anchor="middle" >2</text>
<text x="440.0" y="552.2" font-size="25.0" text-anchor="middle" >2</text>
<text x="522.4" y="538.5" font-size="25.0" text-anchor="middle" >1</text>
<text x="600.7" y="525.5" font-size="25.0" text-anchor="middle" >0</text>
<text x="676.0" y="511.6" font-size="25.0" text-anchor="middle" >−1</text>
<text x="751.8" y="497.9" font-size="25.0" text-anchor="middle" >−2</text>
<text x="56.5" y="207.2" font-size="25.0" text-anchor="middle" >1.5</text>
<text x="57.0" y="305.2" font-size="25.0" text-anchor="middle" >0.0</text>
<text x="57.5" y="403.1" font-size="25.0" text-anchor="middle" >−1.5</text>
<text transform="translate(183.5,536.5) rotate(13.50)" font-size="22.9" text-anchor="middle" y="5.0">Embedding dim 2</text>
<text transform="translate(636.3,544.7) rotate(-9.50)" font-size="22.9" text-anchor="middle" y="5.0">Embedding dim 1</text>
<text transform="translate(13.2,263.6) rotate(90.00)" font-size="22.9" text-anchor="middle" y="5.0">Embedding dim 3</text>
<text font-size="34.1"><tspan x="207" y="35.5" font-size="34.4">Hyperplane Bucketing: </tspan><tspan x="536.2" y="35.5" font-weight="bold">v</tspan><tspan x="555.4" y="42.4" font-size="23.9" font-style="italic">σ</tspan><tspan x="554.8" y="23" font-size="23" font-family="'DejaVu Sans', sans-serif">⊤</tspan><tspan x="575.4" y="35.5" font-weight="bold">e</tspan><tspan x="590.4" y="39" font-size="40" font-family="'DejaVu Sans', sans-serif" stroke="#fff" stroke-width="1.3" textLength="27.15" lengthAdjust="spacingAndGlyphs">≷</tspan><tspan x="614.6" y="35.5" font-style="italic" textLength="15.26" lengthAdjust="spacingAndGlyphs">τ</tspan></text>
<rect x="212.5" y="573.5" width="413.5" height="75" rx="4" ry="4" fill="#fff" stroke="#8c8c8c" stroke-width="2"/>
<circle cx="244.9" cy="594.1" r="4.5" fill="#a78bfa" fill-opacity="0.56"/>
<circle cx="244.9" cy="628.4" r="4.8" fill="#10b981"/>
<text font-size="22.9"><tspan x="287" y="598">Bucket </tspan><tspan x="356.2" y="598" font-size="20" font-family="'DejaVu Math TeX Gyre', 'Liberation Serif', serif">𝒱</tspan><tspan x="375" y="602.8" font-size="16">0 </tspan><tspan x="389.2" y="598">(token encoded as bit=0)</tspan></text>
<text font-size="22.9"><tspan x="287" y="632.7">Bucket </tspan><tspan x="356.2" y="632.7" font-size="20" font-family="'DejaVu Math TeX Gyre', 'Liberation Serif', serif">𝒱</tspan><tspan x="375" y="637.5" font-size="16">1 </tspan><tspan x="389.2" y="632.7">(token encoded as bit=1)</tspan></text>
</svg></body></html>
